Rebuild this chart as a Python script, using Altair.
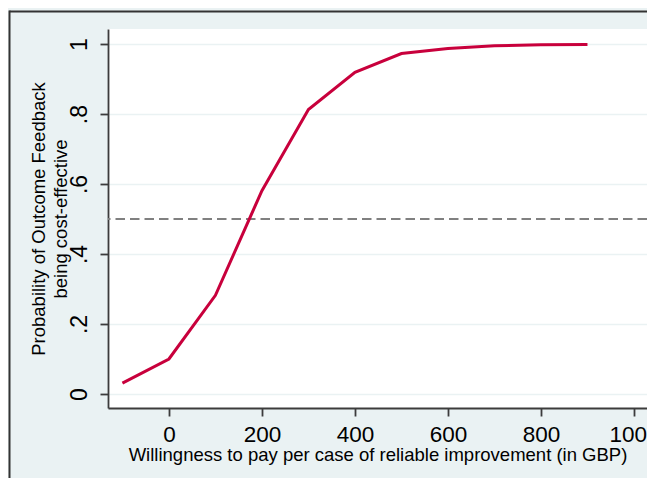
import altair as alt
import pandas as pd

# Willingness to pay (GBP) and probability cost-effective
wtp = [-100, 0, 100, 200, 300, 400, 500, 600, 700, 800, 900]
prob = [0.031, 0.100, 0.282, 0.581, 0.813, 0.919, 0.973, 0.987, 0.995, 0.998, 0.999]
threshold = [0.5]
x_ticks = [0, 200, 400, 600, 800, 1000]
y_ticks = [0, 0.2, 0.4, 0.6, 0.8, 1]

FONT = "Liberation Sans"
BG = "#EAF2F3"
AXIS = "#3c3c3c"

df = pd.DataFrame({"wtp": wtp, "prob": prob})
ref = pd.DataFrame({"ref": threshold})
frame = pd.DataFrame({"f": [0]})

x_scale = alt.Scale(domain=[-131, 1028], nice=False, zero=False)
y_scale = alt.Scale(domain=[-0.04, 1.043], nice=False, zero=False)

x_axis = alt.Axis(
    values=x_ticks, format="d",
    title="Willingness to pay per case of reliable improvement (in GBP)",
    grid=False, labelFontSize=22.5, titleFontSize=18.5, tickSize=8, labelPadding=7,
    titleY=37.5, titleBaseline="top",
)
y_axis = alt.Axis(
    values=y_ticks,
    title=["Probability of Outcome Feedback", "being cost-effective"],
    labelExpr="datum.value == 0 ? '0' : datum.value == 1 ? '1' : '.' + format(datum.value * 10, 'd')",
    grid=True, gridColor=BG, gridWidth=1.5,
    labelAngle=270, labelAlign="center", labelBaseline="bottom",
    labelFontSize=23, titleFontSize=18.5, tickSize=8, labelPadding=9,
    titleAngle=270, titleAlign="center", titleBaseline="bottom",
    titleX=-60, titleY=189.5, titleLineHeight=22,
)

line = alt.Chart(df).mark_line(color="#C8003C", strokeWidth=3).encode(
    x=alt.X("wtp:Q", scale=x_scale, axis=x_axis),
    y=alt.Y("prob:Q", scale=y_scale, axis=y_axis),
)

rule = alt.Chart(ref).mark_rule(color="#808080", strokeWidth=2, strokeDash=[9.5, 5]).encode(
    y=alt.Y("ref:Q", scale=y_scale)
)

# outer graph-region border (top and left edges)
border_left = alt.Chart(frame).mark_rule(color="#333333", strokeWidth=2).encode(
    x=alt.value(-98.5), y=alt.value(-18.5), y2=alt.value(460)
)
border_top = alt.Chart(frame).mark_rule(color="#333333", strokeWidth=2).encode(
    x=alt.value(-98.5), x2=alt.value(560), y=alt.value(-17.5)
)

chart = alt.layer(rule, line, border_left, border_top).properties(
    width=539, height=379,
    padding={"left": 100, "top": 21, "right": 0, "bottom": 70},
    autosize=alt.AutoSizeParams(type="none"),
    background=BG,
).configure_view(fill="white", strokeWidth=0).configure_axis(
    labelFont=FONT, titleFont=FONT, labelColor="black", titleColor="black",
    titleFontWeight="normal", domainColor=AXIS, domainWidth=1.8,
    tickColor=AXIS, tickWidth=1.8,
)

chart.save("out.html", embed_options={"renderer": "svg", "actions": False})
